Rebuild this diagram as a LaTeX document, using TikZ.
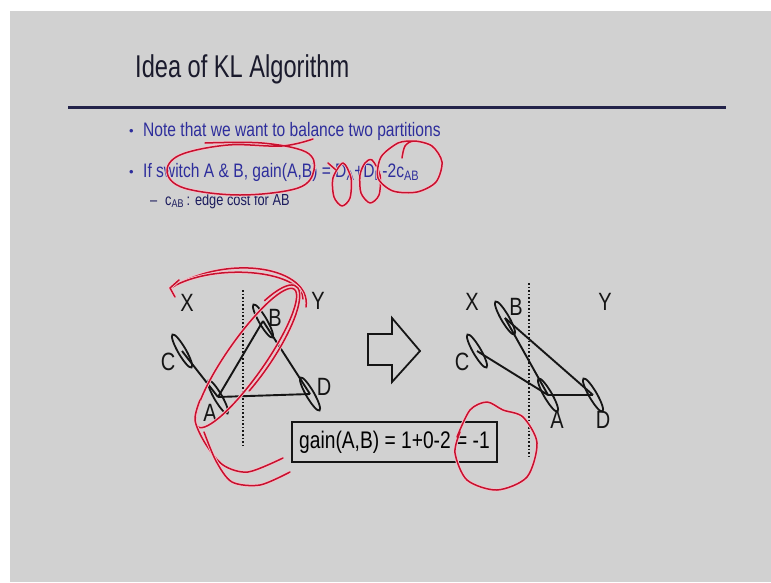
\documentclass[tikz,border=0pt]{standalone}
\usepackage{fontspec}
\setmainfont{Liberation Sans}
\newfontfamily\narrowsf[FakeStretch=0.8]{Liberation Sans}
\newfontfamily\titlesf[FakeStretch=0.75]{Liberation Sans}
\usetikzlibrary{shapes.geometric}
\definecolor{cS}{HTML}{D1D1D1}
\definecolor{cT}{HTML}{1A1A2C}
\definecolor{cL}{HTML}{23234A}
\definecolor{cB}{HTML}{2E2E9C}
\definecolor{cR}{HTML}{C8102E}
\definecolor{cK}{HTML}{151515}
\tikzset{
  vtx/.style={ellipse,draw=cK,line width=1.8pt,minimum width=38pt,
              minimum height=8pt,inner sep=0pt,rotate=-60},
  lbl/.style={font=\narrowsf\fontsize{25}{25}\selectfont,text=cK,inner sep=0pt},
  edge/.style={cK,line width=1.9pt},
  cut/.style={cK,line width=2.2pt,dash pattern=on 1.6pt off 2pt},
  txt/.style={anchor=base west,inner sep=0pt,text=cB,
              font=\narrowsf\fontsize{19.5}{19.5}\selectfont},
  ink/.style={cR,line width=1.5pt,line cap=round,line join=round,
              preaction={draw=cR!25,line width=3.2pt}},
  gainbox/.style={draw=cK,line width=1.6pt,minimum width=205pt,minimum height=40pt,
              inner sep=0pt,font=\narrowsf\fontsize{24}{24}\selectfont},
}

\begin{document}
\begin{tikzpicture}[x=1pt,y=-1pt]
  \useasboundingbox (0,0) rectangle (771,582);
  \fill[cS] (10,11) rectangle (771,582);
  % heading
  \node[anchor=base west,inner sep=0pt,text=cT,font=\titlesf\fontsize{31.5}{31.5}\selectfont]
    (title) at (135,77) {Idea of KL Algorithm};
  \draw[cL,line width=3pt] (68,107) -- (726,107);
  \node[txt,font=\fontsize{13}{13}\selectfont] (b1) at (129,135) {\textbullet};
  \node[txt] (t1) at (143,136) {Note that we want to balance two partitions};
  \node[txt,font=\fontsize{13}{13}\selectfont] (b2) at (129,176) {\textbullet};
  \node[txt] (t2) at (143,177)
    {If switch A \& B, gain(A,B) = D\textsubscript{A}+D\textsubscript{B}-2c\textsubscript{AB}};
  \node[txt,text=cB!60!black,font=\narrowsf\fontsize{16}{16}\selectfont] (s1) at (150,205) {\textendash};
  \node[txt,text=cB!60!black,font=\narrowsf\fontsize{16}{16}\selectfont] (t3) at (165,205)
    {c\textsubscript{AB}\,: edge cost for AB};

  % before the swap
  \draw[cut] (243,290) -- (243,445);
  \node[lbl] (lX) at (187,303) {X};
  \node[lbl] (lY) at (318,301) {Y};
  \node[vtx] (C) at (182,351) {};
  \node[vtx] (B) at (263,321) {};
  \node[vtx] (A) at (218,397) {};
  \node[vtx] (D) at (310,394) {};
  \node[lbl] (lC) at (168,362) {C};
  \node[lbl] (lB) at (275,318) {B};
  \node[lbl] (lA) at (210,413) {A};
  \node[lbl] (lD) at (324,387) {D};
  \draw[edge] (C.center) -- (A.center);
  \draw[edge] (A.center) -- (B.center);
  \draw[edge] (B.center) -- (D.center);
  \draw[edge] (A.center) -- (D.center);

  % swap arrow
  \draw[cK,line width=1.8pt,line join=miter]
    (368,334) -- (392,334) -- (392,318) -- (420,351) -- (392,382) -- (392,365) -- (368,365) -- cycle;

  % after the swap
  \draw[cut] (529,283) -- (529,457);
  \node[lbl] (rX) at (472,302) {X};
  \node[lbl] (rY) at (605,302) {Y};
  \node[vtx] (C2) at (477,351) {};
  \node[vtx] (B2) at (505,318) {};
  \node[vtx] (A2) at (548,395) {};
  \node[vtx] (D2) at (593,395) {};
  \node[lbl] (rC) at (462,362) {C};
  \node[lbl] (rB) at (516,307) {B};
  \node[lbl] (rA) at (557,420) {A};
  \node[lbl] (rD) at (603,420) {D};
  \draw[edge] (C2.center) -- (A2.center);
  \draw[edge] (B2.center) -- (A2.center);
  \draw[edge] (B2.center) -- (D2.center);
  \draw[edge] (A2.center) -- (D2.center);

  \node[gainbox] (gain) at (394.5,442) {gain(A,B) = 1+0-2 = -1};

  % pen marks
  \draw[ink] plot[smooth,tension=.6] coordinates {(205,143) (262,143) (306,152) (314,170)
    (298,188) (240,195) (184,188) (167,172) (180,155) (228,145) (282,146) (313,139)};
  \draw[ink] plot[smooth cycle] coordinates {(343,163) (351,178) (350,198) (342,206) (334,197) (333,178)};
  \draw[ink] (328,163) -- (336,170);
  \draw[ink] plot[smooth cycle] coordinates {(372,160) (380,175) (379,195) (370,203) (361,193) (360,175) (365,163)};
  \draw[ink] plot[smooth] coordinates {(402,158) (405,146) (414,141) (432,146) (442,162)
    (436,182) (417,192) (393,191) (378,178) (381,157) (398,143) (412,141)};
  \draw[ink] (306,307) .. controls (312,268) and (230,252) .. (171,288);
  \draw[ink] (303,299) .. controls (303,272) and (222,262) .. (176,285);
  \draw[ink] (179,280) -- (170,288) -- (175,297);
  \draw[ink,rotate around={55:(246,358)}] (246,358) ellipse [x radius=84, y radius=19];
  \draw[ink,rotate around={55:(248,355)}] (248,355) ++(-50:84 and 23)
    arc[start angle=-50,end angle=110,x radius=84,y radius=23];
  \draw[ink] plot[smooth] coordinates {(200,400) (195,420) (205,443) (223,465) (248,472) (283,458)};
  \draw[ink] plot[smooth] coordinates {(204,432) (216,461) (232,482) (260,485) (290,472)};
  \draw[ink] plot[smooth] coordinates {(457,437) (470,410) (487,402) (503,410) (523,417)
    (537,443) (527,477) (497,490) (467,480) (455,453) (460,432)};
\end{tikzpicture}
\end{document}
